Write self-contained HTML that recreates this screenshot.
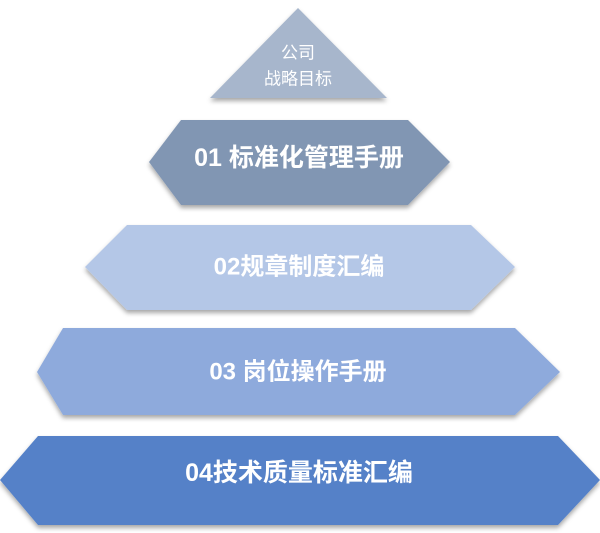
<!DOCTYPE html>
<html><head><meta charset="utf-8"><style>
html,body{margin:0;padding:0;background:#fff;}
svg{display:block;}
text{font-family:"Liberation Sans","Noto Sans CJK SC",sans-serif;fill:#fff;font-weight:bold;text-anchor:middle;dominant-baseline:central;}
</style></head><body>
<svg width="600" height="533" viewBox="0 0 600 533" xmlns="http://www.w3.org/2000/svg">
<defs>
<filter id="sh" x="-10%" y="-10%" width="120%" height="130%">
<feDropShadow dx="0" dy="3" stdDeviation="2.5" flood-color="#000" flood-opacity="0.35"/>
</filter>
</defs>
<polygon points="298,8 387,98 210,98" fill="#a7b6cc" filter="url(#sh)"/>
<text x="298" y="53" font-size="17" style="font-weight:normal">公司</text>
<text x="298" y="79" font-size="17" style="font-weight:normal">战略目标</text>

<polygon points="181,120 408,120 450,162 408,205 181,205 149,162" fill="#8196b3" filter="url(#sh)"/>
<text x="299" y="158" font-size="25">01 标准化管理手册</text>

<polygon points="127,225 471,225 515,267 471,310 127,310 85,267" fill="#b4c7e7" filter="url(#sh)"/>
<text x="299" y="267" font-size="24">02规章制度汇编</text>

<polygon points="63,328 515,328 560,372 515,415 63,415 37,372" fill="#8eaadc" filter="url(#sh)"/>
<text x="298" y="372" font-size="24">03 岗位操作手册</text>

<polygon points="38,436 558,436 600,480 558,525 38,525 0,480" fill="#5581c8" filter="url(#sh)"/>
<text x="299" y="473" font-size="25">04技术质量标准汇编</text>
</svg>
</body></html>
